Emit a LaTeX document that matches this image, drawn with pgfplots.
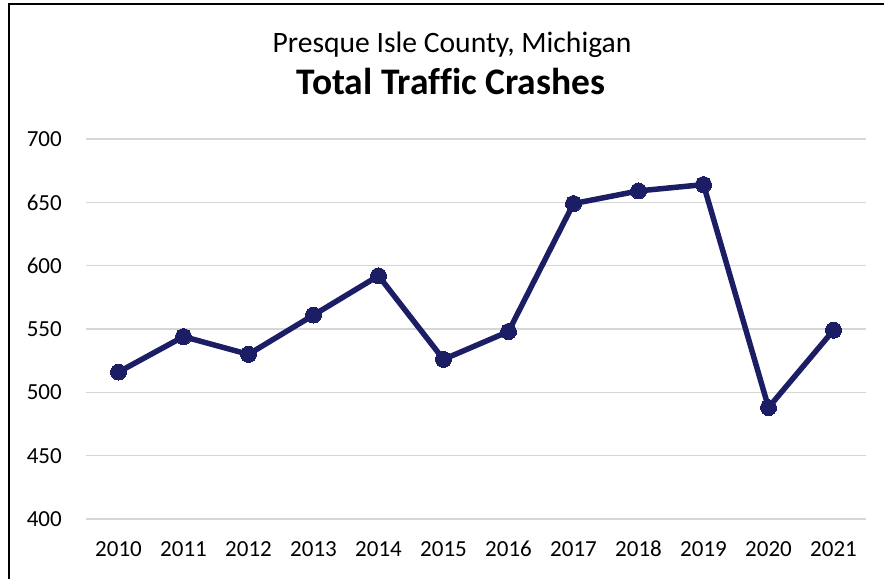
\documentclass[border=0pt]{standalone}
\usepackage{fontspec}
\setmainfont{Carlito}[Ligatures=CommonOff]
\usepackage{pgfplots}
\pgfplotsset{compat=1.18}
\definecolor{navy}{RGB}{27,30,100}
\definecolor{gridgray}{RGB}{214,214,214}
\begin{document}
\begin{tikzpicture}[x=1pt,y=1pt]
\path[use as bounding box] (0,0) rectangle (884,579);
\draw[line width=1.5pt, black] (9,0) -- (9,575) -- (884,575);
\node[font=\fontsize{29.6}{34}\selectfont, anchor=base] at (452,526) {Presque Isle County, Michigan};
\node[font=\fontsize{37.5}{42}\selectfont\bfseries, anchor=base] at (451,484) {Total Traffic Crashes};
\begin{axis}[
  at={(86pt,60pt)}, anchor=south west,
  scale only axis, width=780pt, height=380pt,
  xmin=-0.5, xmax=11.5, ymin=400, ymax=700,
  xtick={0,...,11},
  xticklabels={2010,2011,2012,2013,2014,2015,2016,2017,2018,2019,2020,2021},
  ytick={400,450,...,700},
  axis line style={draw=none},
  major tick length=0pt,
  ymajorgrids, grid style={gridgray, line width=1.6pt},
  tick label style={font=\fontsize{23}{27}\selectfont, black},
  /pgf/number format/assume math mode=true,
  yticklabel style={anchor=east, inner sep=0pt, xshift=-24pt},
  xticklabel style={anchor=north, inner sep=0pt, yshift=-22pt},
  clip=false
]
\addplot[navy, line width=5.5pt, mark=*, mark size=8pt, mark options={fill=navy, draw=navy, line width=0pt}]
  coordinates {(0,516) (1,544) (2,530) (3,561) (4,592) (5,526) (6,548) (7,649) (8,659) (9,664) (10,488) (11,549)};
\end{axis}
\end{tikzpicture}
\end{document}
